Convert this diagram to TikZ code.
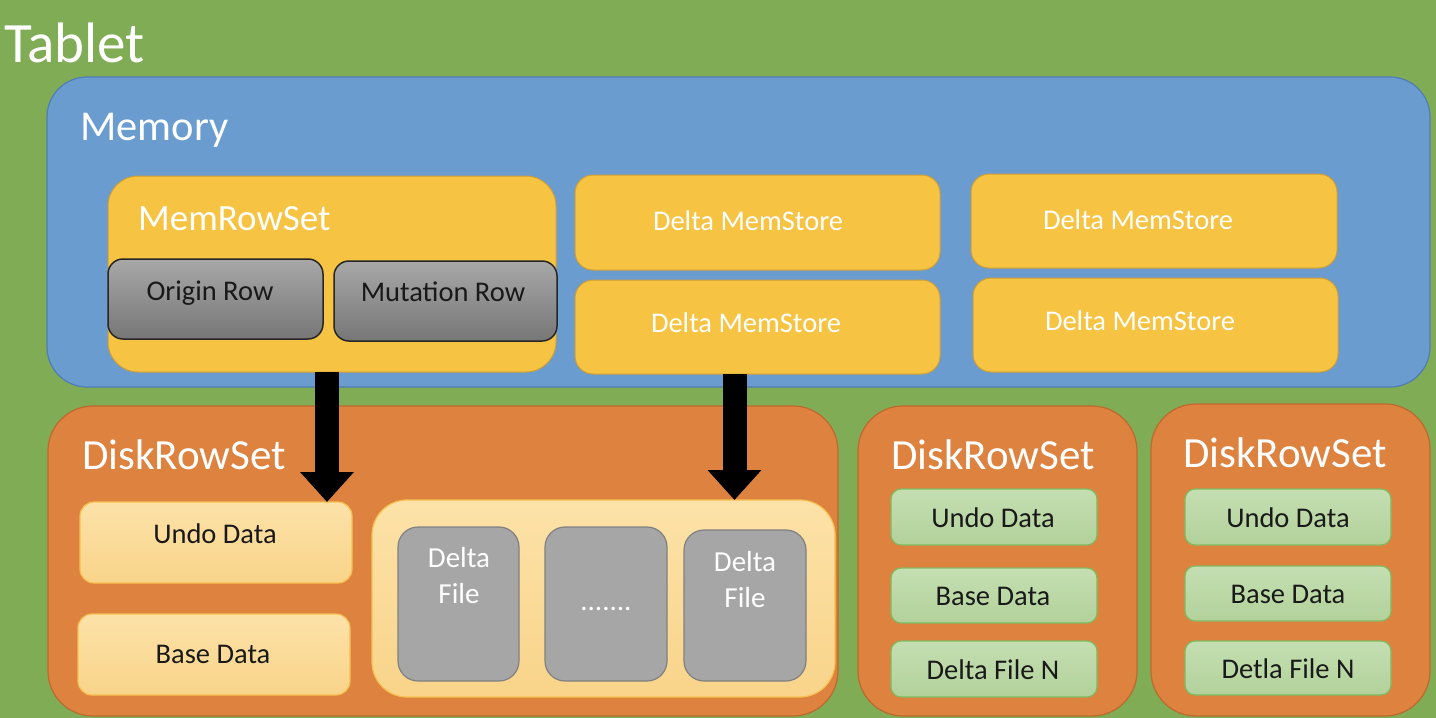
\documentclass[tikz,border=0pt]{standalone}
\usepackage{fontspec}
\setmainfont{Carlito}
\usetikzlibrary{arrows.meta}
\definecolor{bggreen}{RGB}{129,172,86}
\definecolor{memblue}{RGB}{106,156,208}
\definecolor{memblueb}{RGB}{80,125,180}
\definecolor{gold}{RGB}{246,195,67}
\definecolor{goldb}{RGB}{205,160,55}
\definecolor{orng}{RGB}{222,130,64}
\definecolor{orngb}{RGB}{190,105,45}
\definecolor{lyel}{RGB}{250,218,150}
\definecolor{lyeltop}{RGB}{252,226,168}
\definecolor{lyelbot}{RGB}{249,212,138}
\definecolor{lyelb}{RGB}{246,192,80}
\definecolor{fgray}{RGB}{166,166,166}
\definecolor{fgrayb}{RGB}{128,128,128}
\definecolor{rgtop}{RGB}{168,168,168}
\definecolor{rgbot}{RGB}{118,118,118}
\definecolor{lgtop}{RGB}{196,223,178}
\definecolor{lgbot}{RGB}{178,209,154}
\definecolor{lgb}{RGB}{130,185,95}
\definecolor{txt}{RGB}{25,25,25}
\tikzset{
  x=1pt, y=-1pt,
  shp/.style={rectangle, inner sep=0pt, outer sep=0pt},
  membox/.style={shp, fill=memblue, draw=memblueb, line width=1.2pt, rounded corners=40pt},
  goldbox/.style={shp, fill=gold, draw=goldb, line width=1pt, rounded corners=#1},
  rowbox/.style={shp, top color=rgtop, bottom color=rgbot, draw=black!85, line width=1.5pt, rounded corners=15pt},
  diskbox/.style={shp, fill=orng, draw=orngb, line width=1.2pt, rounded corners=45pt},
  lybox/.style={shp, top color=lyeltop, bottom color=lyelbot, draw=lyelb, line width=1.2pt, rounded corners=#1},
  filebox/.style={shp, fill=fgray, draw=fgrayb, line width=1.2pt, rounded corners=20pt},
  grbox/.style={shp, top color=lgtop, bottom color=lgbot, draw=lgb, line width=1.2pt, rounded corners=10pt},
  wlabel/.style={text=white, inner sep=0pt, anchor=base},
  blabel/.style={text=txt, inner sep=0pt, anchor=base, font=\fontsize{28.5}{34}\selectfont},
  dmslabel/.style={wlabel, font=\fontsize{28.5}{32}\selectfont},
  bigarrow/.style={line width=24pt, draw=black, -{Triangle[width=52pt,length=30pt]}},
}
\begin{document}
\begin{tikzpicture}
\useasboundingbox (0,0) rectangle (1436,718);
\fill[bggreen] (0,0) rectangle (1436,718);

% Memory
\node[membox, minimum width=1383pt, minimum height=310pt] (mem) at (738.5,232) {};
\node[goldbox=30pt, minimum width=448pt, minimum height=196pt] (mrs) at (332,274) {};
\node[rowbox, minimum width=215pt, minimum height=80pt] (orow) at (215.5,299) {};
\node[rowbox, minimum width=223pt, minimum height=80pt] (mrow) at (445.5,301) {};
\node[goldbox=18pt, minimum width=365pt, minimum height=95pt] (dms1) at (757.5,222.5) {};
\node[goldbox=18pt, minimum width=365pt, minimum height=94pt] (dms2) at (757.5,327) {};
\node[goldbox=18pt, minimum width=366pt, minimum height=94pt] (dms3) at (1154,221) {};
\node[goldbox=18pt, minimum width=365pt, minimum height=94pt] (dms4) at (1155.5,325) {};

% Disk row sets
\node[diskbox, minimum width=790pt, minimum height=310pt] (drs1) at (443,561) {};
\node[lybox=14pt, minimum width=272pt, minimum height=81pt] (undo1) at (216,542.5) {};
\node[lybox=14pt, minimum width=272pt, minimum height=81pt] (base1) at (214,654.5) {};
\node[lybox=35pt, minimum width=463pt, minimum height=197pt] (cont) at (603.5,598.5) {};
\node[filebox, minimum width=121pt, minimum height=154pt] (df1) at (458.5,604) {};
\node[filebox, minimum width=122pt, minimum height=154pt] (df2) at (606,604) {};
\node[filebox, minimum width=122pt, minimum height=151pt] (df3) at (745,605.5) {};

\node[diskbox, minimum width=279pt, minimum height=310pt] (drs2) at (997.5,561) {};
\node[diskbox, minimum width=279pt, minimum height=312pt] (drs3) at (1290.5,560) {};
\node[grbox, minimum width=206pt, minimum height=56pt] (g1u) at (994,517) {};
\node[grbox, minimum width=206pt, minimum height=55pt] (g1b) at (994,595.5) {};
\node[grbox, minimum width=206pt, minimum height=56pt] (g1d) at (994,669) {};
\node[grbox, minimum width=206pt, minimum height=56pt] (g2u) at (1288,517) {};
\node[grbox, minimum width=206pt, minimum height=55pt] (g2b) at (1288,593.5) {};
\node[grbox, minimum width=206pt, minimum height=54pt] (g2d) at (1288,668) {};

% Titles
\node[wlabel, anchor=base west, font=\fontsize{57}{62}\selectfont] (ttab) at (4,62) {Tablet};
\node[wlabel, anchor=base west, font=\fontsize{42.5}{46}\selectfont] (tmem) at (80,140) {Memory};
\node[wlabel, anchor=base west, font=\fontsize{37}{42}\selectfont] (tmrs) at (138,230) {MemRowSet};
\node[wlabel, anchor=base west, font=\fontsize{43}{48}\selectfont] (tdrs1) at (82,469) {DiskRowSet};
\node[wlabel, font=\fontsize{43}{48}\selectfont] (tdrs2) at (993,469) {DiskRowSet};
\node[wlabel, font=\fontsize{43}{48}\selectfont] (tdrs3) at (1285,467) {DiskRowSet};

% Memory labels
\node[dmslabel] at (748,230) {Delta MemStore};
\node[dmslabel] at (746,332) {Delta MemStore};
\node[dmslabel] at (1138,229.5) {Delta MemStore};
\node[dmslabel] at (1140,330) {Delta MemStore};
\node[blabel] at (210,300) {Origin Row};
\node[blabel] at (443,301) {Mutation Row};

% Disk labels
\node[blabel] at (215,543) {Undo Data};
\node[blabel] at (213,663) {Base Data};
\node[wlabel, font=\fontsize{29}{36}\selectfont, align=center, anchor=north] at (459,547) {Delta\\File};
\node[wlabel, font=\fontsize{29}{36}\selectfont] at (606,610) {.......};
\node[wlabel, font=\fontsize{29}{36}\selectfont, align=center, anchor=north] at (745,551) {Delta\\File};
\node[blabel] at (993,527) {Undo Data};
\node[blabel] at (993,605) {Base Data};
\node[blabel] at (993,679) {Delta File N};
\node[blabel] at (1288,527) {Undo Data};
\node[blabel] at (1288,603) {Base Data};
\node[blabel] at (1288,678) {Detla File N};

% Arrows
\draw[bigarrow] ([xshift=-25pt]undo1.north east |- mrs.south) -- ([xshift=-25pt]undo1.north east);
\draw[bigarrow] ([xshift=-23pt]dms2.south) -- ([xshift=-23pt]dms2.south |- cont.north);
\end{tikzpicture}
\end{document}
